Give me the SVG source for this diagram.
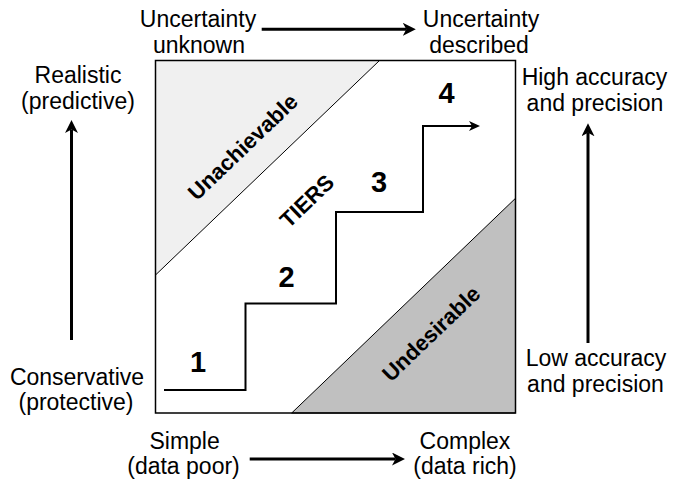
<svg xmlns="http://www.w3.org/2000/svg" width="673" height="485" viewBox="0 0 673 485">
  <defs>
    <style>
      .lbl { font-family: "Liberation Sans", Arial, sans-serif; font-size: 23px; fill: #000; text-anchor: middle; }
      .zone { font-family: "Liberation Sans", Arial, sans-serif; font-size: 22px; font-weight: bold; fill: #000; text-anchor: middle; }
      .num { font-family: "Liberation Sans", Arial, sans-serif; font-size: 29px; font-weight: bold; fill: #000; text-anchor: middle; }
      .axis { stroke: #000; stroke-width: 3; fill: none; }
      .tri { stroke: #000; stroke-width: 1; }
    </style>
    <marker id="bigHead" viewBox="0 0 13 13" refX="3.5" refY="6.5" markerWidth="13" markerHeight="13" markerUnits="userSpaceOnUse" orient="auto">
      <path d="M0,0 L13,6.5 L0,13 L3.5,6.5 z" fill="#000"/>
    </marker>
    <marker id="smallHead" viewBox="0 0 11 10" refX="3" refY="5" markerWidth="11" markerHeight="10" markerUnits="userSpaceOnUse" orient="auto">
      <path d="M0,0 L11,5 L0,10 L3,5 z" fill="#000"/>
    </marker>
  </defs>

  <!-- main panel with the two excluded regions -->
  <g id="panel">
    <rect x="155.5" y="60.5" width="360" height="352.5" fill="#fff"/>
  </g>
  <g id="unachievable">
    <polygon class="tri" points="155.5,60.5 379.5,60.5 155.5,275" fill="#f0f0f0"/>
    <text class="zone" transform="translate(242.5,146.7) rotate(-43.8)" y="8">Unachievable</text>
  </g>
  <g id="undesirable">
    <polygon class="tri" points="291.7,413 515.5,413 515.5,198.3" fill="#c0c0c0"/>
    <text class="zone" transform="translate(430.8,333.3) rotate(-43.8)" y="8">Undesirable</text>
  </g>
  <rect x="155.5" y="60.5" width="360" height="352.5" fill="none" stroke="#000" stroke-width="1.5"/>

  <!-- tier staircase -->
  <g id="tiers">
    <text class="zone" transform="translate(306.7,200.7) rotate(-43.8)" y="8">TIERS</text>
    <text class="num" x="198" y="372">1</text>
    <text class="num" x="286.5" y="286.5">2</text>
    <text class="num" x="379" y="191.5">3</text>
    <text class="num" x="446.5" y="103">4</text>
  </g>

  <!-- axis labels -->
  <g id="top-left-label">
    <text class="lbl" x="198" y="27">Uncertainty</text>
    <text class="lbl" x="199" y="53">unknown</text>
  </g>
  <g id="top-right-label">
    <text class="lbl" x="481" y="27">Uncertainty</text>
    <text class="lbl" x="479" y="53">described</text>
  </g>
  <g id="left-top-label">
    <text class="lbl" x="78" y="83">Realistic</text>
    <text class="lbl" x="78" y="109">(predictive)</text>
  </g>
  <g id="left-bottom-label">
    <text class="lbl" x="77" y="385">Conservative</text>
    <text class="lbl" x="76" y="410">(protective)</text>
  </g>
  <g id="right-top-label">
    <text class="lbl" x="594.5" y="85">High accuracy</text>
    <text class="lbl" x="595" y="111">and precision</text>
  </g>
  <g id="right-bottom-label">
    <text class="lbl" x="596" y="366">Low accuracy</text>
    <text class="lbl" x="595.5" y="392">and precision</text>
  </g>
  <g id="bottom-left-label">
    <text class="lbl" x="184.6" y="449">Simple</text>
    <text class="lbl" x="183.5" y="474">(data poor)</text>
  </g>
  <g id="bottom-right-label">
    <text class="lbl" x="465" y="449">Complex</text>
    <text class="lbl" x="465" y="474">(data rich)</text>
  </g>

  <!-- connectors -->
  <g id="connectors">
    <path class="axis" d="M261.7,29.3 H406.3" marker-end="url(#bigHead)"/>
    <path class="axis" d="M249.7,459 H395.5" marker-end="url(#bigHead)"/>
    <path class="axis" d="M71.5,340 V129.5" marker-end="url(#bigHead)"/>
    <path class="axis" d="M588,343 V132.8" marker-end="url(#bigHead)"/>
    <path d="M164,390 H245.5 V303.5 H336 V212 H423 V126 H472" fill="none" stroke="#000" stroke-width="2" marker-end="url(#smallHead)"/>
  </g>
</svg>
